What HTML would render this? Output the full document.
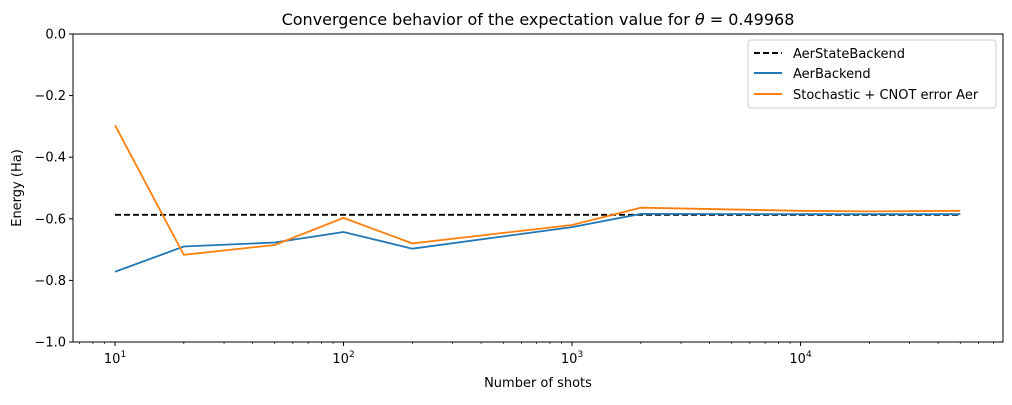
<!DOCTYPE html>
<html><head><meta charset="utf-8"><style>
body{margin:0;background:#fff;}
svg text{font-family:"DejaVu Sans","Liberation Sans",sans-serif;fill:#000;}
</style></head><body>
<svg id="chart" width="1012" height="400" xmlns="http://www.w3.org/2000/svg">
<text x="538" y="25" font-size="16" text-anchor="middle">Convergence behavior of the expectation value for <tspan font-style="italic">θ</tspan> = 0.49968</text>
<g id="grid"></g>
<g id="series"></g>
<rect x="73" y="34" width="930" height="308" fill="none" stroke="#000" stroke-width="1"/>
<text x="538" y="387" font-size="13" text-anchor="middle">Number of shots</text>
<text transform="translate(21,188) rotate(-90)" font-size="13" text-anchor="middle">Energy (Ha)</text>
<g>
<rect x="748" y="40" width="248" height="68" rx="3" fill="#fff" stroke="#ccc"/>
<line x1="754" y1="53" x2="782" y2="53" stroke="#000" stroke-width="2" stroke-dasharray="6,3"/>
<text x="793" y="58" font-size="13">AerStateBackend</text>
<line x1="754" y1="73" x2="782" y2="73" stroke="#1f77b4" stroke-width="2"/>
<text x="793" y="78" font-size="13">AerBackend</text>
<line x1="754" y1="94" x2="782" y2="94" stroke="#ff7f0e" stroke-width="2"/>
<text x="793" y="99" font-size="13">Stochastic + CNOT error Aer</text>
</g>
</svg>
<script>
const shots=[10,20,50,100,200,1000,2000,10000,20000,50000];
const stateVals=[-0.587,-0.587,-0.587,-0.587,-0.587,-0.587,-0.587,-0.587,-0.587,-0.587];
const aerVals=[-0.772,-0.690,-0.677,-0.643,-0.697,-0.627,-0.584,-0.585,-0.585,-0.585];
const noisyVals=[-0.296,-0.717,-0.685,-0.597,-0.680,-0.620,-0.564,-0.574,-0.576,-0.574];
const yTicks=[0,-0.2,-0.4,-0.6,-0.8,-1.0];
const yTickLabels=["0.0","−0.2","−0.4","−0.6","−0.8","−1.0"];
const xDecades=[1,2,3,4];
const L=73,R=1003,T=34,B=342,lmin=0.816,lmax=4.886;
const xs=v=>L+(Math.log10(v)-lmin)/(lmax-lmin)*(R-L);
const ys=v=>T+(0-v)/(1)*(B-T);
const NS="http://www.w3.org/2000/svg";
const svg=document.getElementById('chart');
const grid=document.getElementById('grid');
const ser=document.getElementById('series');
function mk(t,a,p){const e=document.createElementNS(NS,t);for(const k in a)e.setAttribute(k,a[k]);(p||svg).appendChild(e);return e;}
yTicks.forEach((v,i)=>{
  const y=ys(v);
  const tk=mk('line',{x1:L-4,x2:L,y1:y,y2:y,stroke:'#000'},grid);
  
  
  const t=mk('text',{x:L-7,y:y+4.5,'font-size':13,'text-anchor':'end'},grid);
  t.textContent=yTickLabels[i];
  
  
});
for(let d=0;d<=4;d++){
  for(let m=1;m<10;m++){
    const v=m*Math.pow(10,d);const lv=Math.log10(v);
    if(lv<lmin||lv>lmax)continue;
    const x=xs(v);const major=m===1;
    const tk=mk('line',{x1:x,x2:x,y1:B,y2:B+(major?4:2),stroke:'#000','stroke-width':major?1:0.7},grid);
    
    
  }
}
xDecades.forEach(d=>{
  const x=xs(Math.pow(10,d));
  const t=mk('text',{x:x,y:B+21,'font-size':13,'text-anchor':'middle'},grid);
  t.innerHTML='10<tspan dy="-6" font-size="9">'+d+'</tspan>';
  
  
});
function line(vals,color,dash,name){
  const pts=shots.map((s,i)=>xs(s).toFixed(1)+','+ys(vals[i]).toFixed(1)).join(' ');
  const p=mk('polyline',{points:pts,fill:'none',stroke:color,'stroke-width':1.8,'stroke-dasharray':dash||'none'},ser);
  
  
}
line(stateVals,'#000','6,3','aerstate-line');
line(aerVals,'#1f77b4',null,'aer-line');
line(noisyVals,'#ff7f0e',null,'stochastic-line');
</script>
</body></html>
